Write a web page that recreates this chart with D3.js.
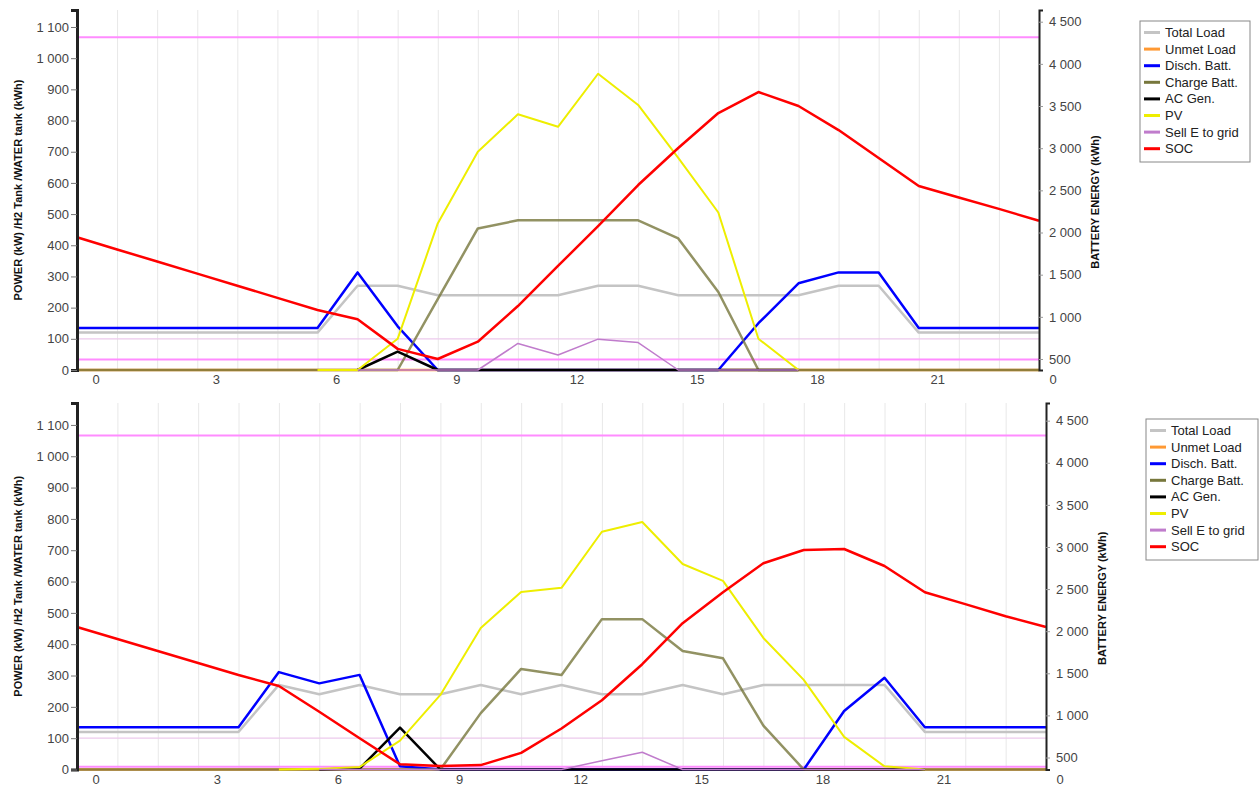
<!DOCTYPE html>
<html>
<head>
<meta charset="utf-8">
<script src="https://cdn.jsdelivr.net/npm/d3@7"></script>
<style>
  body { margin: 0; background: #fff; }
  svg { display: block; font-family: "Liberation Sans", Arial, sans-serif; }
</style>
</head>
<body>
<svg id="chart" width="1260" height="785"></svg>
<script>
// hours of the day (x categories)
const hours = [0, 1, 2, 3, 4, 5, 6, 7, 8, 9, 10, 11, 12, 13, 14, 15, 16, 17, 18, 19, 20, 21, 22, 23, 24]
const xTickHours = [0, 3, 6, 9, 12, 15, 18, 21]
const leftTicks = [0, 100, 200, 300, 400, 500, 600, 700, 800, 900, 1000, 1100]
const rightTicks = [500, 1000, 1500, 2000, 2500, 3000, 3500, 4000, 4500]

const seriesNames = ["Total Load", "Unmet Load", "Disch. Batt.", "Charge Batt.", "AC Gen.", "PV", "Sell E to grid", "SOC"]
const seriesColors = ["#c4c4c4", "#ff9933", "#0000ff", "#77773c", "#000000", "#eeee00", "#c07ccc", "#ff0000"]

// upper panel (kW, SOC in kWh on right axis)
const loadA   = [120, 120, 120, 120, 120, 120, 120, 270, 270, 240, 240, 240, 240, 270, 270, 240, 240, 240, 240, 270, 270, 120, 120, 120, 120]
const unmetA  = [0, 0, 0, 0, 0, 0, 0, 0, 0, 0, 0, 0, 0, 0, 0, 0, 0, 0, 0, 0, 0, 0, 0, 0, 0]
const dischA  = [135, 135, 135, 135, 135, 135, 135, 313, 140, 0, 0, 0, 0, 0, 0, 0, 0, 150, 278, 313, 313, 135, 135, 135, 135]
const chargeA = [0, 0, 0, 0, 0, 0, 0, 0, 0, 227, 454, 480, 480, 480, 480, 422, 250, 0, 0, 0, 0, 0, 0, 0, 0]
const acGenA  = [null, null, null, null, null, null, null, 0, 59, 0, 0, 0, 0, 0, 0, 0, 0, 0, 0, null, null, null, null, null, null]
const pvA     = [null, null, null, null, null, null, 0, 0, 100, 470, 700, 820, 780, 950, 850, 680, 505, 100, 0, null, null, null, null, null, null]
const sellA   = [null, null, null, null, null, null, null, 0, 0, 0, 0, 85, 48, 99, 88, 0, 0, 0, 0, null, null, null, null, null, null]
const socA    = [1943, 1799, 1656, 1512, 1368, 1225, 1081, 971, 620, 500, 705, 1128, 1603, 2077, 2563, 3002, 3417, 3666, 3500, 3215, 2884, 2552, 2415, 2280, 2140]
const limitsA = [1067, 100, 34]

// lower panel
const loadB   = [120, 120, 120, 120, 120, 270, 240, 270, 240, 240, 270, 240, 270, 240, 240, 270, 240, 270, 270, 270, 270, 120, 120, 120, 120]
const unmetB  = [0, 0, 0, 0, 0, 0, 0, 0, 0, 0, 0, 0, 0, 0, 0, 0, 0, 0, 0, 0, 0, 0, 0, 0, 0]
const dischB  = [135, 135, 135, 135, 135, 311, 275, 302, 10, 0, 0, 0, 0, 0, 0, 0, 0, 0, 0, 187, 293, 135, 135, 135, 135]
const chargeB = [0, 0, 0, 0, 0, 0, 0, 0, 0, 0, 180, 321, 302, 480, 480, 378, 355, 140, 0, 0, 0, 0, 0, 0, 0]
const acGenB  = [null, null, null, null, null, null, 0, 3, 134, 0, 0, 0, 0, 0, 0, 0, 0, 0, 0, 0, 0, 0, null, null, null]
const pvB     = [null, null, null, null, null, 0, 2, 8, 92, 238, 452, 567, 580, 759, 790, 656, 602, 420, 286, 104, 10, 0, null, null, null]
const sellB   = [null, null, null, null, null, null, 0, 0, 0, 0, 0, 0, 0, 28, 55, 0, 0, 0, 0, 0, 0, 0, null, null, null]
const socB    = [2049, 1907, 1764, 1622, 1479, 1349, 1044, 728, 419, 399, 410, 555, 845, 1180, 1608, 2095, 2463, 2807, 2964, 2976, 2774, 2463, 2321, 2178, 2049]
const limitsB = [1066, 100, 9]

const limitColors = ["#ff8cff", "#eccaec", "#ff8cff"]
const limitWidths = [2, 1.2, 2]
const lineWidths = [2.5, 2.5, 2.5, 2.5, 2.5, 2, 1.5, 2.5]

const panels = [
  {
    series: [loadA, unmetA, dischA, chargeA, acGenA, pvA, sellA, socA], limits: limitsA,
    left: 77, right: 1039, top: 10, bottom: 370,
    leftMax: 1154.5, rightMin: 369.5, rightMax: 4638.8,
    legend: { x: 1140, y: 21, w: 110, h: 141 }
  },
  {
    series: [loadB, unmetB, dischB, chargeB, acGenB, pvB, sellB, socB], limits: limitsB,
    left: 77, right: 1046, top: 403, bottom: 769.5,
    leftMax: 1170, rightMin: 357.5, rightMax: 4710,
    legend: { x: 1146, y: 419, w: 112, h: 141 }
  }
]

const svg = d3.select("#chart")
const fmt = d => d3.format(",")(d).replace(/,/g, " ")

panels.forEach(p => {
  const g = svg.append("g")
  const x = d3.scaleLinear().domain([0, 24]).range([p.left, p.right])
  const yL = d3.scaleLinear().domain([0, p.leftMax]).range([p.bottom, p.top])
  const yR = d3.scaleLinear().domain([p.rightMin, p.rightMax]).range([p.bottom, p.top])

  // vertical grid, one per hour
  g.append("g")
    .attr("transform", `translate(0,${p.bottom})`)
    .call(d3.axisBottom(x).tickValues(hours.slice(1, 24)).tickSize(-(p.bottom - p.top)).tickFormat(""))
    .call(s => s.select(".domain").remove())
    .call(s => s.selectAll("line").attr("stroke", "#e8e8e8"))

  // x labels sit right of their grid line
  g.selectAll("text.xlab")
    .data(xTickHours)
    .join("text")
    .attr("class", "xlab")
    .attr("x", d => (x(d) + x(d + 1)) / 2 - 1)
    .attr("y", p.bottom + 14)
    .attr("text-anchor", "middle")
    .attr("font-size", 13)
    .attr("fill", "#444")
    .text(d => d)

  // constant horizontal levels
  g.selectAll("line.limit")
    .data(p.limits)
    .join("line")
    .attr("class", "limit")
    .attr("x1", p.left).attr("x2", p.right)
    .attr("y1", d => yL(d)).attr("y2", d => yL(d))
    .attr("stroke", (d, i) => limitColors[i])
    .attr("stroke-width", (d, i) => limitWidths[i])

  // series
  p.series.forEach((vals, i) => {
    const y = i === 7 ? yR : yL
    const line = d3.line()
      .defined(d => d[1] != null)
      .x(d => x(d[0]))
      .y(d => y(d[1]))
    g.append("path")
      .datum(hours.map((h, k) => [h, vals[k]]))
      .attr("d", line)
      .attr("fill", "none")
      .attr("stroke", seriesColors[i])
      .attr("stroke-width", lineWidths[i])
      .attr("stroke-opacity", i === 3 ? 0.8 : 1)
      .attr("stroke-linejoin", "round")
  })

  // left axis
  const axL = g.append("g")
    .attr("transform", `translate(${p.left},0)`)
    .call(d3.axisLeft(yL).tickValues(leftTicks).tickSize(6).tickPadding(2).tickFormat(fmt))
  axL.select(".domain").attr("stroke", "#222").attr("stroke-width", 3)
  axL.selectAll(".tick line").attr("stroke", "#777")
  axL.selectAll(".tick text").attr("font-size", 13).attr("fill", "#444").attr("font-family", null)

  // right axis
  const axR = g.append("g")
    .attr("transform", `translate(${p.right},0)`)
    .call(d3.axisRight(yR).tickValues(rightTicks).tickSize(4).tickPadding(6).tickFormat(fmt))
  axR.select(".domain").attr("stroke", "#222").attr("stroke-width", 2)
  axR.selectAll(".tick line").attr("stroke", "#999")
  axR.selectAll(".tick text").attr("font-size", 13).attr("fill", "#444").attr("font-family", null)
  g.append("text")
    .attr("x", p.right + 14).attr("y", p.bottom + 14)
    .attr("text-anchor", "middle")
    .attr("font-size", 13).attr("fill", "#444")
    .text("0")

  // axis titles
  const midY = (p.top + p.bottom) / 2
  g.append("text")
    .attr("transform", `translate(22,${midY}) rotate(-90)`)
    .attr("text-anchor", "middle")
    .attr("font-size", 11).attr("font-weight", "bold").attr("fill", "#111")
    .text("POWER (kW) /H2 Tank  /WATER tank (kWh)")
  g.append("text")
    .attr("transform", `translate(${p.right + 60},${midY + 12}) rotate(-90)`)
    .attr("text-anchor", "middle")
    .attr("font-size", 11).attr("font-weight", "bold").attr("fill", "#111")
    .text("BATTERY ENERGY (kWh)")

  // legend
  const lg = g.append("g").attr("transform", `translate(${p.legend.x},${p.legend.y})`)
  lg.append("rect")
    .attr("width", p.legend.w).attr("height", p.legend.h)
    .attr("fill", "#fff").attr("stroke", "#888").attr("stroke-width", 1)
  const rows = lg.selectAll("g.row")
    .data(seriesNames)
    .join("g")
    .attr("class", "row")
    .attr("transform", (d, i) => `translate(0,${11.5 + i * 16.6})`)
  rows.append("line")
    .attr("x1", 4).attr("x2", 20)
    .attr("stroke", (d, i) => seriesColors[i])
    .attr("stroke-width", 3)
  rows.append("text")
    .attr("x", 25).attr("dy", "0.35em")
    .attr("font-size", 13).attr("fill", "#222")
    .text(d => d)
})
</script>
</body>
</html>
